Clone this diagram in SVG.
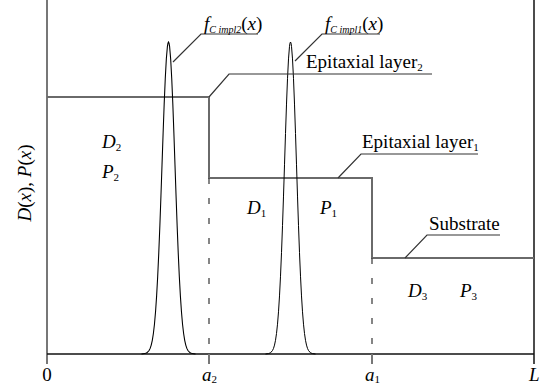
<svg xmlns="http://www.w3.org/2000/svg" width="542" height="387" viewBox="0 0 542 387">
<style>
text{font-family:"Liberation Serif","Times New Roman",serif;fill:#000}
.t{font-size:19px}
.i{font-style:italic}
.sub{font-size:11px;font-style:normal}
.fs{font-size:10px;font-style:italic}
.frame{stroke:#777;stroke-width:2;fill:none}
.axis{stroke:#111;stroke-width:1.5;fill:none}
.prof{stroke:#6a6a6a;stroke-width:2;fill:none}
.dash{stroke:#444;stroke-width:1.3;stroke-dasharray:6 14;fill:none}
.lead{stroke:#333;stroke-width:1.2;fill:none}
.peak{stroke:#000;stroke-width:1;fill:none}
</style>
<defs>
<path id="gauss" d="M-25,0 L-22,-0.4 L-20,-1.2 L-18,-3.5 L-17,-5.6 L-16,-8.9 L-15,-13.7 L-14,-20.5 L-13,-29.8 L-12,-42.2 L-11,-58.1 L-10,-77.8 L-9,-101.3 L-8,-128.3 L-7,-157.9 L-6,-189.2 L-5,-220.5 L-4,-249.9 L-3,-275.3 L-2,-295.1 L-1,-307.7 L-0.5,-310.9 L0,-312 L0.5,-310.9 L1,-307.7 L2,-295.1 L3,-275.3 L4,-249.9 L5,-220.5 L6,-189.2 L7,-157.9 L8,-128.3 L9,-101.3 L10,-77.8 L11,-58.1 L12,-42.2 L13,-29.8 L14,-20.5 L15,-13.7 L16,-8.9 L17,-5.6 L18,-3.5 L20,-1.2 L22,-0.4 L25,0"/>
</defs>
<g id="axes">
<line class="frame" x1="47" y1="0" x2="47" y2="364"/>
<line class="axis" x1="534" y1="0" x2="534" y2="364"/>
<line class="axis" x1="47" y1="354" x2="534" y2="354"/>
<line class="frame" x1="209" y1="354" x2="209" y2="364"/>
<line class="frame" x1="372" y1="354" x2="372" y2="364"/>
<text class="t" x="47" y="381" text-anchor="middle">0</text>
<text class="t i" x="202" y="381">a<tspan class="sub" dy="2">2</tspan></text>
<text class="t i" x="365" y="381">a<tspan class="sub" dy="2">1</tspan></text>
<text class="t i" x="529" y="381">L</text>
<text class="t" transform="translate(31,183) rotate(-90)" text-anchor="middle"><tspan class="i">D</tspan>(<tspan class="i">x</tspan>), <tspan class="i">P</tspan>(<tspan class="i">x</tspan>)</text>
</g>
<g id="profile">
<path class="prof" d="M47,97 H209 V178 H372 V258 H534"/>
<line class="dash" x1="209" y1="178" x2="209" y2="354"/>
<line class="dash" x1="372" y1="258" x2="372" y2="354"/>
</g>
<g id="peaks">
<use href="#gauss" class="peak" transform="translate(168.5,354) scale(1.08,1)" style="vector-effect:non-scaling-stroke"/>
<use href="#gauss" class="peak" transform="translate(290.5,354)"/>
</g>
<g id="connectors">
<polyline class="lead" points="173,62 201,34 258,34"/>
<polyline class="lead" points="295,61 322,34 380,34"/>
<polyline class="lead" points="209,97 229,74 432,74"/>
<polyline class="lead" points="338,178 361,154 478,154"/>
<polyline class="lead" points="405,258 427,235 500,235"/>
</g>
<g id="label-fimpl2">
<text class="t" x="204" y="30"><tspan class="i">f</tspan><tspan class="fs" dy="3">C impl2</tspan><tspan dy="-3">(</tspan><tspan class="i">x</tspan>)</text>
</g>
<g id="label-fimpl1">
<text class="t" x="325" y="30"><tspan class="i">f</tspan><tspan class="fs" dy="3">C impl1</tspan><tspan dy="-3">(</tspan><tspan class="i">x</tspan>)</text>
</g>
<g id="label-epi2">
<text class="t" x="306" y="68">Epitaxial layer<tspan class="sub" dy="3">2</tspan></text>
</g>
<g id="label-epi1">
<text class="t" x="362" y="148">Epitaxial layer<tspan class="sub" dy="3">1</tspan></text>
</g>
<g id="label-substrate">
<text class="t" x="429" y="230">Substrate</text>
</g>
<g id="region2">
<text class="t i" x="102" y="148">D<tspan class="sub" dy="3">2</tspan></text>
<text class="t i" x="102" y="178">P<tspan class="sub" dy="3">2</tspan></text>
</g>
<g id="region1">
<text class="t i" x="247" y="214">D<tspan class="sub" dy="3">1</tspan></text>
<text class="t i" x="320" y="214">P<tspan class="sub" dy="3">1</tspan></text>
</g>
<g id="region3">
<text class="t i" x="408" y="297">D<tspan class="sub" dy="3">3</tspan></text>
<text class="t i" x="460" y="297">P<tspan class="sub" dy="3">3</tspan></text>
</g>
</svg>
